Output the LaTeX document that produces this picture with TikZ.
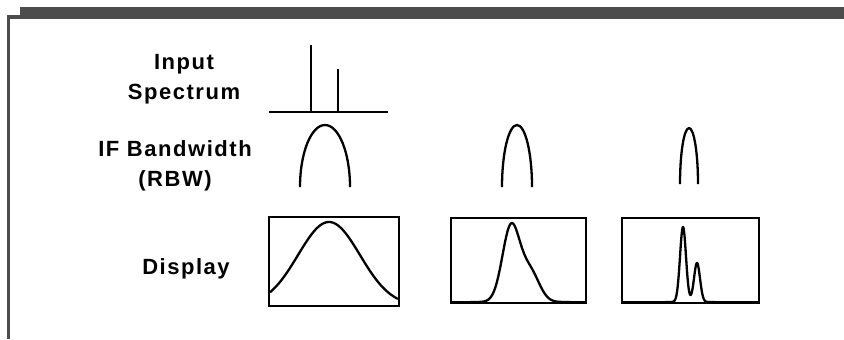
\documentclass[tikz,border=0pt]{standalone}
\usepackage{fontspec}
\setmainfont{Liberation Sans}
\newfontfamily\lblfont[LetterSpace=7]{Liberation Sans}

\tikzset{
  lbl/.style={font=\lblfont\bfseries\fontsize{11}{15}\selectfont, align=center, inner sep=0pt, anchor=base},
  trace/.style={line width=1.15pt, line join=round},
  scrn/.style={line width=1.2pt},
}

\begin{document}
\begin{tikzpicture}[x=0.5pt,y=-0.5pt]
\useasboundingbox (0,0) rectangle (844,339);
\clip (0,0) rectangle (844,339);

% === TITLE (cut off at the top) ===
\node[font=\bfseries\fontsize{20}{24}\selectfont, anchor=base, inner sep=0pt] (ttl) at (418,-11.5) {g};

% === FRAME ===
\fill[black!70] (20,7) rectangle (844,19);
\fill[black!70] (7,15) rectangle (20,19);
\fill[black!70] (7,15) rectangle (10,339);

% === ROW LABELS ===
\node[lbl] (inp) at (184,99) {Input\\Spectrum};
\node[lbl] (ifbw) at (175,186) {IF Bandwidth\\(RBW)};
\node[lbl] (disp) at (186,274) {Display};

% === INPUT SPECTRUM ===
\draw[trace] (269,112) -- (388,112);
\draw[trace] (311,112) -- (311,45);
\draw[trace] (338,112) -- (338,69);

% === IF FILTERS ===
% centre / half width / bottom / height
\foreach \cx/\hw/\bot/\ht in {325/25/187/62, 517/15/187/62, 689/9/184/56} {
  \draw[trace] ({\cx-\hw},\bot) arc[start angle=180, end angle=360, x radius=\hw, y radius=\ht];
}

% === DISPLAYS ===
\draw[scrn] (269,217) rectangle (399,306);
\draw[scrn] (451,218) rectangle (586,303);
\draw[scrn] (622,218) rectangle (759,303);

% wide RBW: one smeared response
\draw[trace] plot[domain=270:398, samples=90, smooth] (\x, {306-84*exp(-(\x-329)^2/(2*31^2))});
% medium RBW: shoulder
\draw[trace] (452,302) -- (470,302);
\draw[trace] plot[domain=470:570, samples=120, smooth] (\x, {302-75*exp(-(\x-511)^2/150)-30*exp(-(\x-530)^2/170)});
\draw[trace] (570,302) -- (585,302);
% narrow RBW: two peaks resolved
\draw[trace] (623,302) -- (665,302);
\draw[trace] plot[domain=665:715, samples=160, smooth] (\x, {302-75*exp(-(\x-683)^2/18)-39*exp(-(\x-697)^2/18)});
\draw[trace] (715,302) -- (758,302);

\end{tikzpicture}
\end{document}
